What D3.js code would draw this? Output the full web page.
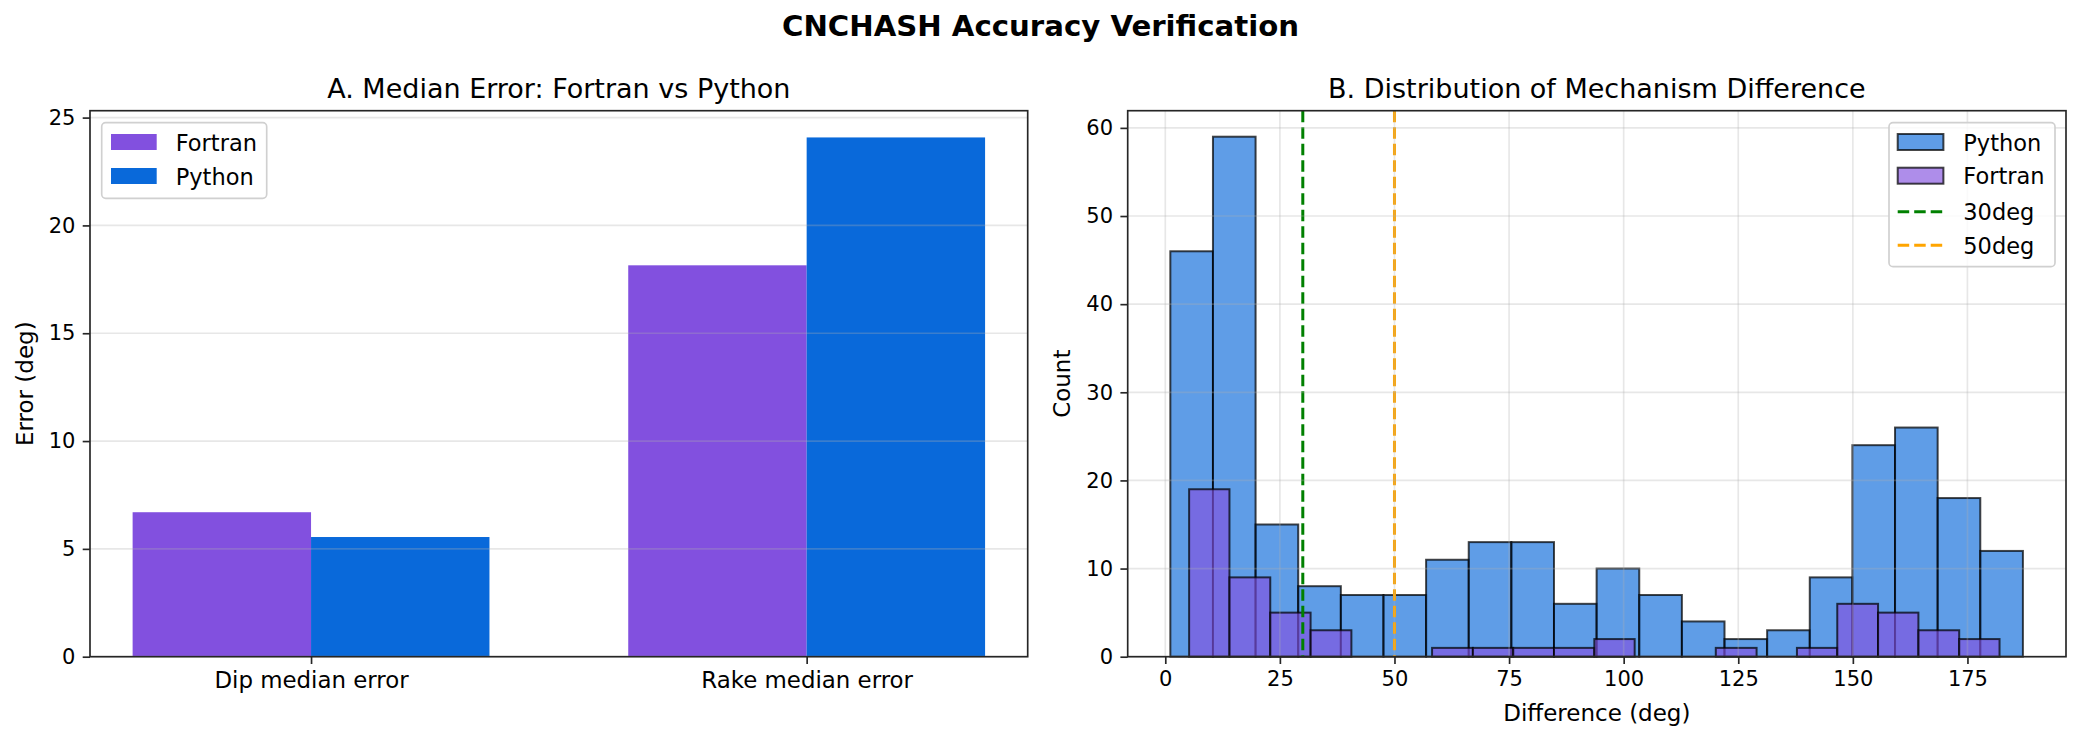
<!DOCTYPE html>
<html>
<head>
<meta charset="utf-8">
<script src="https://cdn.jsdelivr.net/npm/d3@7"></script>
<style>
  html, body { margin: 0; padding: 0; background: #fff; }
  svg { display: block; font-family: "DejaVu Sans", sans-serif; }
</style>
</head>
<body>
<script>
// panel A
const categories = ["Dip median error", "Rake median error"]
const fortranMedian = [6.70, 18.15]
const pythonMedian = [5.55, 24.08]
const errorTicks = [0, 5, 10, 15, 20, 25]

// panel B
const pythonEdges = [1.1, 10.4, 19.7, 29.0, 38.3, 47.6, 56.9, 66.2, 75.5, 84.8, 94.1,
    103.4, 112.7, 122.0, 131.3, 140.6, 149.9, 159.2, 168.5, 177.8, 187.1]
const pythonCounts = [46, 59, 15, 8, 7, 7, 11, 13, 13, 6, 10, 7, 4, 2, 3, 9, 24, 26, 18, 12]
const fortranEdges = [5.2, 14.0, 22.9, 31.7, 40.6, 49.4, 58.2, 67.1, 75.9, 84.8, 93.6,
    102.4, 111.3, 120.1, 129.0, 137.8, 146.6, 155.5, 164.3, 173.2, 182.0]
const fortranCounts = [19, 9, 5, 3, 0, 0, 1, 1, 1, 1, 2, 0, 0, 1, 0, 1, 6, 5, 3, 2]
const diffTicks = [0, 25, 50, 75, 100, 125, 150, 175]
const countTicks = [0, 10, 20, 30, 40, 50, 60]
const thresholdValues = [30, 50]
const thresholdLabels = ["30deg", "50deg"]

const W = 2081, H = 741
const PURPLE = "#8250df", BLUE = "#0969da"
const SPINE = "#262626"
const svg = d3.select("body").append("svg").attr("width", W).attr("height", H)

svg.append("text")
    .attr("x", 1040.5).attr("y", 36)
    .attr("text-anchor", "middle")
    .attr("font-size", 29.2).attr("font-weight", "bold")
    .text("CNCHASH Accuracy Verification")

const plotTop = 110.7, plotBottom = 656.7

function styleAxis(g, size) {
    g.select(".domain").remove()
    g.selectAll(".tick line").attr("stroke", SPINE).attr("stroke-width", 1.67)
    g.selectAll(".tick text").attr("font-size", size || 21).attr("fill", "#000")
        .attr("font-family", "DejaVu Sans")
}

function frame(x0, x1) {
    svg.append("rect")
        .attr("x", x0).attr("y", plotTop)
        .attr("width", x1 - x0).attr("height", plotBottom - plotTop)
        .attr("fill", "none").attr("stroke", SPINE).attr("stroke-width", 1.67)
}

// ---------- A. Median error ----------
;(() => {
    const x0 = 90, x1 = 1027.7
    const bw = 0.36
    const x = d3.scaleLinear().domain([-bw - 0.086, 1 + bw + 0.086]).range([x0, x1])
    const y = d3.scaleLinear().domain([0, 25.32]).range([plotBottom, plotTop])
    const g = svg.append("g")

    g.append("g").selectAll("rect")
        .data(fortranMedian)
        .join("rect")
        .attr("fill", PURPLE)
        .attr("x", (d, i) => x(i - bw))
        .attr("width", (d, i) => x(i) - x(i - bw))
        .attr("y", (d) => y(d))
        .attr("height", (d) => y(0) - y(d))
    g.append("g").selectAll("rect")
        .data(pythonMedian)
        .join("rect")
        .attr("fill", BLUE)
        .attr("x", (d, i) => x(i))
        .attr("width", (d, i) => x(i + bw) - x(i))
        .attr("y", (d) => y(d))
        .attr("height", (d) => y(0) - y(d))

    // horizontal grid over bars
    g.append("g").selectAll("line")
        .data(errorTicks)
        .join("line")
        .attr("x1", x0).attr("x2", x1)
        .attr("y1", (d) => y(d)).attr("y2", (d) => y(d))
        .attr("stroke", "#b0b0b0").attr("stroke-opacity", 0.3).attr("stroke-width", 1.67)

    const axY = svg.append("g")
        .attr("transform", `translate(${x0},0)`)
        .call(d3.axisLeft(y).tickValues(errorTicks).tickSize(7.3).tickPadding(7.3))
    styleAxis(axY)
    const axX = svg.append("g")
        .attr("transform", `translate(0,${plotBottom})`)
        .call(d3.axisBottom(x).tickValues([0, 1]).tickFormat((d) => categories[d])
            .tickSize(7.3).tickPadding(7.3))
    styleAxis(axX, 22.9)
    frame(x0, x1)

    svg.append("text")
        .attr("x", (x0 + x1) / 2).attr("y", 98.3)
        .attr("text-anchor", "middle").attr("font-size", 27)
        .text("A. Median Error: Fortran vs Python")
    svg.append("text")
        .attr("transform", "translate(33,383.7) rotate(-90)")
        .attr("text-anchor", "middle").attr("font-size", 23)
        .text("Error (deg)")

    // legend
    const lg = svg.append("g")
    lg.append("rect")
        .attr("x", 101.7).attr("y", 122.7).attr("width", 165).attr("height", 75.6)
        .attr("rx", 4).attr("fill", "#fff").attr("fill-opacity", 0.8)
        .attr("stroke", "#d0d0d0").attr("stroke-width", 1.67)
    const items = [["Fortran", PURPLE], ["Python", BLUE]]
    items.forEach(([name, c], i) => {
        lg.append("rect").attr("x", 111).attr("y", 134 + i * 34)
            .attr("width", 45.7).attr("height", 16).attr("fill", c)
        lg.append("text").attr("x", 175.7).attr("y", 150.5 + i * 34)
            .attr("font-size", 22.5).text(name)
    })
})();

// ---------- B. Distribution ----------
;(() => {
    const x0 = 1127.7, x1 = 2066
    const x = d3.scaleLinear().domain([-8.2, 196.5]).range([x0, x1])
    const y = d3.scaleLinear().domain([0, 61.95]).range([plotBottom, plotTop])
    const g = svg.append("g")

    const bins = (edges, counts) => counts.map((c, i) => ({ a: edges[i], b: edges[i + 1], c }))

    const drawHist = (data, color) => {
        g.append("g").selectAll("rect")
            .data(data.filter((d) => d.c > 0))
            .join("rect")
            .attr("x", (d) => x(d.a))
            .attr("width", (d) => x(d.b) - x(d.a))
            .attr("y", (d) => y(d.c))
            .attr("height", (d) => y(0) - y(d.c))
            .attr("fill", color).attr("fill-opacity", 0.65)
            .attr("stroke", "#000").attr("stroke-opacity", 0.72).attr("stroke-width", 2)
    }
    drawHist(bins(pythonEdges, pythonCounts), BLUE)
    drawHist(bins(fortranEdges, fortranCounts), PURPLE)

    // threshold lines
    const thColors = ["green", "orange"]
    g.append("g").selectAll("line")
        .data(thresholdValues)
        .join("line")
        .attr("x1", (d) => x(d)).attr("x2", (d) => x(d))
        .attr("y1", plotTop).attr("y2", plotBottom)
        .attr("stroke", (d, i) => thColors[i]).attr("stroke-width", 3)
        .attr("stroke-dasharray", "11.5,5")

    // grid both ways, above patches
    g.append("g").selectAll("line")
        .data(countTicks)
        .join("line")
        .attr("x1", x0).attr("x2", x1)
        .attr("y1", (d) => y(d)).attr("y2", (d) => y(d))
        .attr("stroke", "#b0b0b0").attr("stroke-opacity", 0.3).attr("stroke-width", 1.67)
    g.append("g").selectAll("line")
        .data(diffTicks)
        .join("line")
        .attr("x1", (d) => x(d)).attr("x2", (d) => x(d))
        .attr("y1", plotTop).attr("y2", plotBottom)
        .attr("stroke", "#b0b0b0").attr("stroke-opacity", 0.3).attr("stroke-width", 1.67)

    const axY = svg.append("g")
        .attr("transform", `translate(${x0},0)`)
        .call(d3.axisLeft(y).tickValues(countTicks).tickSize(7.3).tickPadding(7.3))
    styleAxis(axY)
    const axX = svg.append("g")
        .attr("transform", `translate(0,${plotBottom})`)
        .call(d3.axisBottom(x).tickValues(diffTicks).tickSize(7.3).tickPadding(7.3))
    styleAxis(axX)
    frame(x0, x1)

    svg.append("text")
        .attr("x", (x0 + x1) / 2).attr("y", 98.3)
        .attr("text-anchor", "middle").attr("font-size", 27)
        .text("B. Distribution of Mechanism Difference")
    svg.append("text")
        .attr("x", (x0 + x1) / 2).attr("y", 721)
        .attr("text-anchor", "middle").attr("font-size", 23)
        .text("Difference (deg)")
    svg.append("text")
        .attr("transform", "translate(1070,383.7) rotate(-90)")
        .attr("text-anchor", "middle").attr("font-size", 23)
        .text("Count")

    // legend
    const lg = svg.append("g")
    lg.append("rect")
        .attr("x", 1889).attr("y", 122.7).attr("width", 166).attr("height", 144)
        .attr("rx", 4).attr("fill", "#fff").attr("fill-opacity", 0.8)
        .attr("stroke", "#d0d0d0").attr("stroke-width", 1.67)
    const patches = [["Python", BLUE], ["Fortran", PURPLE]]
    patches.forEach(([name, c], i) => {
        lg.append("rect").attr("x", 1897.7).attr("y", 134 + i * 33.7)
            .attr("width", 45.7).attr("height", 16)
            .attr("fill", c).attr("fill-opacity", 0.65)
            .attr("stroke", "#000").attr("stroke-opacity", 0.72).attr("stroke-width", 2)
        lg.append("text").attr("x", 1963.3).attr("y", 150.5 + i * 33.7)
            .attr("font-size", 22.5).text(name)
    })
    thresholdLabels.forEach((name, i) => {
        const yy = 211.7 + i * 33.5
        lg.append("line").attr("x1", 1897.7).attr("x2", 1943.4)
            .attr("y1", yy).attr("y2", yy)
            .attr("stroke", thColors[i]).attr("stroke-width", 3)
            .attr("stroke-dasharray", "11.5,5")
        lg.append("text").attr("x", 1963.3).attr("y", yy + 8.5)
            .attr("font-size", 22.5).text(name)
    })
})();
</script>
</body>
</html>
